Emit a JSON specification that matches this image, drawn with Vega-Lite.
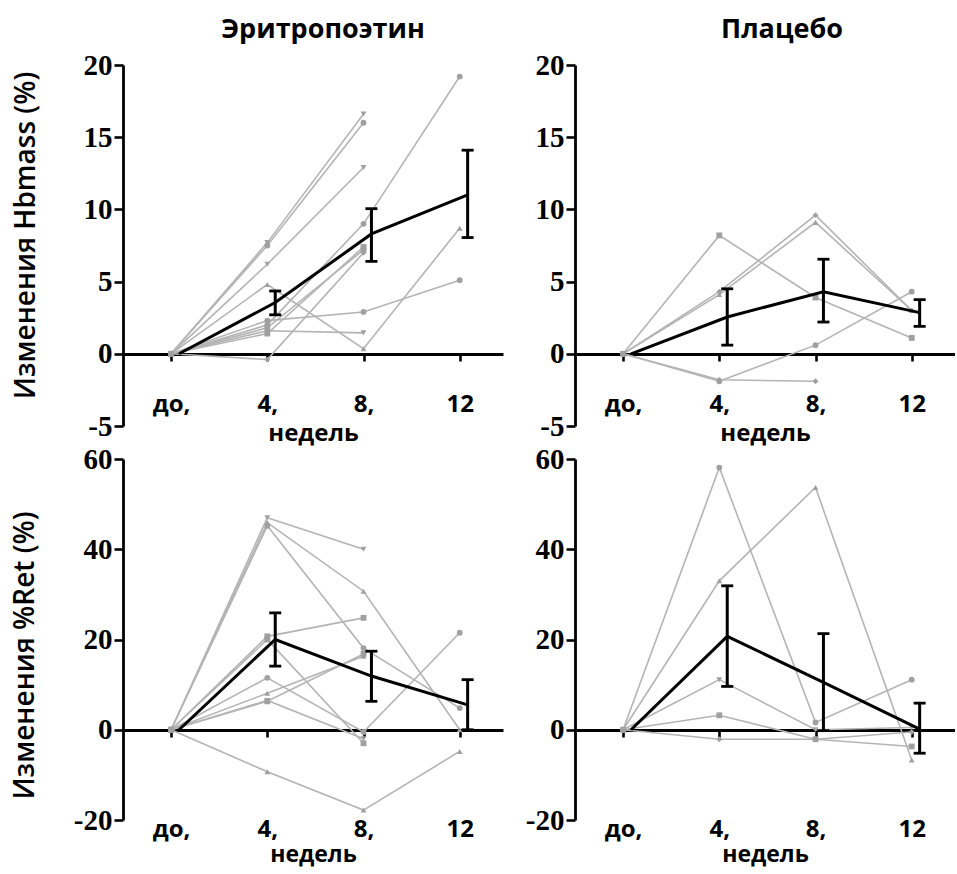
{
  "$schema": "https://vega.github.io/schema/vega-lite/v6.json",
  "background": "white",
  "padding": {"left": 11, "top": 16, "right": 0, "bottom": 8},
  "datasets": {
    "ind": [
      {"panel": "EPO_Hb", "subj": "s1", "week": 0, "value": 0}, {"panel": "EPO_Hb", "subj": "s1", "week": 4, "value": 7.7}, {"panel": "EPO_Hb", "subj": "s1", "week": 8, "value": 16.6},
      {"panel": "EPO_Hb", "subj": "s2", "week": 0, "value": 0}, {"panel": "EPO_Hb", "subj": "s2", "week": 4, "value": 7.5}, {"panel": "EPO_Hb", "subj": "s2", "week": 8, "value": 16.0},
      {"panel": "EPO_Hb", "subj": "s3", "week": 0, "value": 0}, {"panel": "EPO_Hb", "subj": "s3", "week": 4, "value": 6.2}, {"panel": "EPO_Hb", "subj": "s3", "week": 8, "value": 12.9},
      {"panel": "EPO_Hb", "subj": "s4", "week": 0, "value": 0}, {"panel": "EPO_Hb", "subj": "s4", "week": 4, "value": 4.8}, {"panel": "EPO_Hb", "subj": "s4", "week": 8, "value": 0.35}, {"panel": "EPO_Hb", "subj": "s4", "week": 12, "value": 8.7},
      {"panel": "EPO_Hb", "subj": "s5", "week": 0, "value": 0}, {"panel": "EPO_Hb", "subj": "s5", "week": 4, "value": 2.3}, {"panel": "EPO_Hb", "subj": "s5", "week": 8, "value": 2.9}, {"panel": "EPO_Hb", "subj": "s5", "week": 12, "value": 5.1},
      {"panel": "EPO_Hb", "subj": "s6", "week": 0, "value": 0}, {"panel": "EPO_Hb", "subj": "s6", "week": 4, "value": 1.6}, {"panel": "EPO_Hb", "subj": "s6", "week": 8, "value": 1.45},
      {"panel": "EPO_Hb", "subj": "s7", "week": 0, "value": 0}, {"panel": "EPO_Hb", "subj": "s7", "week": 4, "value": -0.4}, {"panel": "EPO_Hb", "subj": "s7", "week": 8, "value": 7.0},
      {"panel": "EPO_Hb", "subj": "s8", "week": 0, "value": 0}, {"panel": "EPO_Hb", "subj": "s8", "week": 4, "value": 2.0}, {"panel": "EPO_Hb", "subj": "s8", "week": 8, "value": 9.0}, {"panel": "EPO_Hb", "subj": "s8", "week": 12, "value": 19.2},
      {"panel": "EPO_Hb", "subj": "s9", "week": 0, "value": 0}, {"panel": "EPO_Hb", "subj": "s9", "week": 4, "value": 1.4}, {"panel": "EPO_Hb", "subj": "s9", "week": 8, "value": 7.4},
      {"panel": "EPO_Hb", "subj": "s10", "week": 0, "value": 0}, {"panel": "EPO_Hb", "subj": "s10", "week": 4, "value": 1.8}, {"panel": "EPO_Hb", "subj": "s10", "week": 8, "value": 7.2},

      {"panel": "PL_Hb", "subj": "s9", "week": 0, "value": 0}, {"panel": "PL_Hb", "subj": "s9", "week": 4, "value": 8.2}, {"panel": "PL_Hb", "subj": "s9", "week": 8, "value": 3.9}, {"panel": "PL_Hb", "subj": "s9", "week": 12, "value": 1.1},
      {"panel": "PL_Hb", "subj": "s7", "week": 0, "value": 0}, {"panel": "PL_Hb", "subj": "s7", "week": 4, "value": 4.3}, {"panel": "PL_Hb", "subj": "s7", "week": 8, "value": 9.6}, {"panel": "PL_Hb", "subj": "s7", "week": 12, "value": 3.0},
      {"panel": "PL_Hb", "subj": "s4", "week": 0, "value": 0}, {"panel": "PL_Hb", "subj": "s4", "week": 4, "value": 4.1}, {"panel": "PL_Hb", "subj": "s4", "week": 8, "value": 9.1}, {"panel": "PL_Hb", "subj": "s4", "week": 12, "value": 3.0},
      {"panel": "PL_Hb", "subj": "s2", "week": 0, "value": 0}, {"panel": "PL_Hb", "subj": "s2", "week": 4, "value": -1.9}, {"panel": "PL_Hb", "subj": "s2", "week": 8, "value": 0.6}, {"panel": "PL_Hb", "subj": "s2", "week": 12, "value": 4.3},
      {"panel": "PL_Hb", "subj": "s11", "week": 0, "value": 0}, {"panel": "PL_Hb", "subj": "s11", "week": 4, "value": -1.8}, {"panel": "PL_Hb", "subj": "s11", "week": 8, "value": -1.9},

      {"panel": "EPO_Ret", "subj": "s1", "week": 0, "value": 0}, {"panel": "EPO_Ret", "subj": "s1", "week": 4, "value": 47.0}, {"panel": "EPO_Ret", "subj": "s1", "week": 8, "value": 40.0},
      {"panel": "EPO_Ret", "subj": "s4", "week": 0, "value": 0}, {"panel": "EPO_Ret", "subj": "s4", "week": 4, "value": 45.9}, {"panel": "EPO_Ret", "subj": "s4", "week": 8, "value": 30.7}, {"panel": "EPO_Ret", "subj": "s4", "week": 12, "value": 0},
      {"panel": "EPO_Ret", "subj": "s2", "week": 0, "value": 0}, {"panel": "EPO_Ret", "subj": "s2", "week": 4, "value": 45.2}, {"panel": "EPO_Ret", "subj": "s2", "week": 8, "value": 18.1}, {"panel": "EPO_Ret", "subj": "s2", "week": 12, "value": 4.8},
      {"panel": "EPO_Ret", "subj": "s9", "week": 0, "value": 0}, {"panel": "EPO_Ret", "subj": "s9", "week": 4, "value": 20.7}, {"panel": "EPO_Ret", "subj": "s9", "week": 8, "value": 24.8},
      {"panel": "EPO_Ret", "subj": "s5", "week": 0, "value": 0}, {"panel": "EPO_Ret", "subj": "s5", "week": 4, "value": 11.5}, {"panel": "EPO_Ret", "subj": "s5", "week": 8, "value": -0.5}, {"panel": "EPO_Ret", "subj": "s5", "week": 12, "value": 21.5},
      {"panel": "EPO_Ret", "subj": "s12", "week": 0, "value": 0}, {"panel": "EPO_Ret", "subj": "s12", "week": 4, "value": 8.1}, {"panel": "EPO_Ret", "subj": "s12", "week": 8, "value": 16.3},
      {"panel": "EPO_Ret", "subj": "s10", "week": 0, "value": 0}, {"panel": "EPO_Ret", "subj": "s10", "week": 4, "value": 6.3}, {"panel": "EPO_Ret", "subj": "s10", "week": 8, "value": 16.8},
      {"panel": "EPO_Ret", "subj": "s13", "week": 0, "value": 0}, {"panel": "EPO_Ret", "subj": "s13", "week": 4, "value": 20.0}, {"panel": "EPO_Ret", "subj": "s13", "week": 8, "value": -3.0},
      {"panel": "EPO_Ret", "subj": "s6", "week": 0, "value": 0}, {"panel": "EPO_Ret", "subj": "s6", "week": 4, "value": 6.5}, {"panel": "EPO_Ret", "subj": "s6", "week": 8, "value": -2.0},
      {"panel": "EPO_Ret", "subj": "s14", "week": 0, "value": 0}, {"panel": "EPO_Ret", "subj": "s14", "week": 4, "value": -9.3}, {"panel": "EPO_Ret", "subj": "s14", "week": 8, "value": -17.8}, {"panel": "EPO_Ret", "subj": "s14", "week": 12, "value": -4.8},

      {"panel": "PL_Ret", "subj": "s2", "week": 0, "value": 0}, {"panel": "PL_Ret", "subj": "s2", "week": 4, "value": 58.1}, {"panel": "PL_Ret", "subj": "s2", "week": 8, "value": 1.6}, {"panel": "PL_Ret", "subj": "s2", "week": 12, "value": 11.1},
      {"panel": "PL_Ret", "subj": "s4", "week": 0, "value": 0}, {"panel": "PL_Ret", "subj": "s4", "week": 4, "value": 33.0}, {"panel": "PL_Ret", "subj": "s4", "week": 8, "value": 53.7}, {"panel": "PL_Ret", "subj": "s4", "week": 12, "value": -6.7},
      {"panel": "PL_Ret", "subj": "s3", "week": 0, "value": 0}, {"panel": "PL_Ret", "subj": "s3", "week": 4, "value": 11.1}, {"panel": "PL_Ret", "subj": "s3", "week": 8, "value": 0.0}, {"panel": "PL_Ret", "subj": "s3", "week": 12, "value": 0.5},
      {"panel": "PL_Ret", "subj": "s9", "week": 0, "value": 0}, {"panel": "PL_Ret", "subj": "s9", "week": 4, "value": 3.2}, {"panel": "PL_Ret", "subj": "s9", "week": 8, "value": -2.1}, {"panel": "PL_Ret", "subj": "s9", "week": 12, "value": -3.7},
      {"panel": "PL_Ret", "subj": "s11", "week": 0, "value": 0}, {"panel": "PL_Ret", "subj": "s11", "week": 4, "value": -2.1}, {"panel": "PL_Ret", "subj": "s11", "week": 8, "value": -2.1}, {"panel": "PL_Ret", "subj": "s11", "week": 12, "value": -0.5}
    ],
    "mean": [
      {"panel": "EPO_Hb", "week": 0, "mean": 0, "lo": null, "hi": null},
      {"panel": "EPO_Hb", "week": 4, "mean": 3.55, "lo": 2.7, "hi": 4.35},
      {"panel": "EPO_Hb", "week": 8, "mean": 8.3, "lo": 6.4, "hi": 10.05},
      {"panel": "EPO_Hb", "week": 12, "mean": 11.0, "lo": 8.05, "hi": 14.1},
      {"panel": "PL_Hb", "week": 0, "mean": 0, "lo": null, "hi": null},
      {"panel": "PL_Hb", "week": 4, "mean": 2.55, "lo": 0.6, "hi": 4.5},
      {"panel": "PL_Hb", "week": 8, "mean": 4.3, "lo": 2.2, "hi": 6.55},
      {"panel": "PL_Hb", "week": 12, "mean": 2.85, "lo": 1.9, "hi": 3.75},
      {"panel": "EPO_Ret", "week": 0, "mean": 0, "lo": null, "hi": null},
      {"panel": "EPO_Ret", "week": 4, "mean": 20.0, "lo": 14.1, "hi": 25.9},
      {"panel": "EPO_Ret", "week": 8, "mean": 11.9, "lo": 6.3, "hi": 17.4},
      {"panel": "EPO_Ret", "week": 12, "mean": 5.5, "lo": 0.0, "hi": 11.1},
      {"panel": "PL_Ret", "week": 0, "mean": 0, "lo": null, "hi": null},
      {"panel": "PL_Ret", "week": 4, "mean": 20.7, "lo": 9.6, "hi": 31.9},
      {"panel": "PL_Ret", "week": 8, "mean": 10.5, "lo": -0.2, "hi": 21.3},
      {"panel": "PL_Ret", "week": 12, "mean": 0.15, "lo": -5.2, "hi": 5.9}
    ]
  },
  "config": {
    "view": {"stroke": null},
    "axis": {"grid": false, "domainColor": "black", "domainWidth": 2.8, "tickColor": "black", "tickWidth": 2.6, "labelColor": "black", "titleColor": "black", "labelFlush": false, "labelOverlap": false},
    "axisY": {"labelFont": "Liberation Serif", "labelFontSize": 29, "labelFontWeight": "bold", "tickSize": 9, "labelPadding": 2, "titleFont": "Open Sans", "titleFontSize": 28, "titleFontWeight": 600, "titleFontStyle": "normal", "titlePadding": 43},
    "axisX": {"labelFont": "Open Sans", "labelFontSize": 24, "labelFontWeight": "bold", "tickSize": 7, "titleFont": "Open Sans", "titleFontSize": 24, "titleFontWeight": "bold", "titlePadding": 5},
    "title": {"font": "Open Sans", "fontSize": 27, "fontWeight": "bold", "color": "black", "anchor": "middle", "offset": 7},
    "point": {"filled": true, "opacity": 1}
  },
  "columns": 2,
  "bounds": "flush",
  "spacing": {"row": 33, "column": 72},
  "concat": [
    {
      "width": 380, "height": 361,
      "title": {"text": "Эритропоэтин", "dx": 10},
      "resolve": {"scale": {"x": "independent"}},
      "layer": [
        {
          "data": {"name": "ind"},
          "transform": [{"filter": "datum.panel == 'EPO_Hb'"}],
          "encoding": {
            "x": {"field": "week", "type": "quantitative", "scale": {"domain": [-2, 13.8], "nice": false, "zero": false}, "axis": {"values": [0, 4, 8, 12], "labelExpr": "datum.value == 0 ? 'до,' : datum.value == 12 ? '12' : datum.value + ','", "offset": -72, "labelPadding": 31, "title": "недель"}},
            "y": {"field": "value", "type": "quantitative", "title": "Изменения Hbmass (%)", "scale": {"domain": [-5, 20], "nice": false, "zero": false}, "axis": {"values": [-5, 0, 5, 10, 15, 20], "titleY": 170, "labelExpr": "datum.value < 0 ? '-' + abs(datum.value) : datum.label"}}
          },
          "layer": [
            {"mark": {"type": "line", "color": "#b4b4b4", "strokeWidth": 1.6}, "encoding": {"detail": {"field": "subj"}}},
            {"mark": {"type": "point", "color": "#a0a0a0", "size": 34}, "encoding": {"shape": {"field": "subj", "type": "nominal", "legend": null, "scale": {"domain": ["s1","s2","s3","s4","s5","s6","s7","s8","s9","s10","s11","s12","s13","s14"], "range": ["triangle-down","circle","triangle-down","triangle-up","circle","triangle-down","diamond","circle","square","square","diamond","triangle-up","square","triangle-up"]}}}}
          ]
        },
        {
          "data": {"name": "mean"},
          "transform": [{"filter": "datum.panel == 'EPO_Hb'"}],
          "encoding": {"x": {"field": "week", "type": "quantitative", "scale": {"domain": [-2.33, 13.47], "nice": false, "zero": false}, "axis": null}},
          "layer": [
            {"mark": {"type": "rule", "color": "black", "strokeWidth": 3}, "encoding": {"y": {"field": "lo", "type": "quantitative", "title": "Изменения Hbmass (%)", "scale": {"domain": [-5, 20], "nice": false, "zero": false}}, "y2": {"field": "hi"}}},
            {"mark": {"type": "tick", "orient": "horizontal", "color": "black", "size": 12, "thickness": 2.8, "opacity": 1}, "encoding": {"y": {"field": "lo", "type": "quantitative", "title": "Изменения Hbmass (%)", "scale": {"domain": [-5, 20], "nice": false, "zero": false}}}},
            {"mark": {"type": "tick", "orient": "horizontal", "color": "black", "size": 12, "thickness": 2.8, "opacity": 1}, "encoding": {"y": {"field": "hi", "type": "quantitative", "title": "Изменения Hbmass (%)", "scale": {"domain": [-5, 20], "nice": false, "zero": false}}}},
            {"mark": {"type": "line", "color": "black", "strokeWidth": 3}, "encoding": {"y": {"field": "mean", "type": "quantitative", "title": "Изменения Hbmass (%)", "scale": {"domain": [-5, 20], "nice": false, "zero": false}}}}
          ]
        }
      ]
    },
    {
      "width": 380, "height": 361,
      "title": {"text": "Плацебо", "dx": 17},
      "resolve": {"scale": {"x": "independent"}},
      "layer": [
        {
          "data": {"name": "ind"},
          "transform": [{"filter": "datum.panel == 'PL_Hb'"}],
          "encoding": {
            "x": {"field": "week", "type": "quantitative", "scale": {"domain": [-2, 13.8], "nice": false, "zero": false}, "axis": {"values": [0, 4, 8, 12], "labelExpr": "datum.value == 0 ? 'до,' : datum.value == 12 ? '12' : datum.value + ','", "offset": -72, "labelPadding": 31, "title": "недель"}},
            "y": {"field": "value", "type": "quantitative", "title": null, "scale": {"domain": [-5, 20], "nice": false, "zero": false}, "axis": {"values": [-5, 0, 5, 10, 15, 20], "labelExpr": "datum.value < 0 ? '-' + abs(datum.value) : datum.label"}}
          },
          "layer": [
            {"mark": {"type": "line", "color": "#b4b4b4", "strokeWidth": 1.6}, "encoding": {"detail": {"field": "subj"}}},
            {"mark": {"type": "point", "color": "#a0a0a0", "size": 34}, "encoding": {"shape": {"field": "subj", "type": "nominal", "legend": null, "scale": {"domain": ["s1","s2","s3","s4","s5","s6","s7","s8","s9","s10","s11","s12","s13","s14"], "range": ["triangle-down","circle","triangle-down","triangle-up","circle","triangle-down","diamond","circle","square","square","diamond","triangle-up","square","triangle-up"]}}}}
          ]
        },
        {
          "data": {"name": "mean"},
          "transform": [{"filter": "datum.panel == 'PL_Hb'"}],
          "encoding": {"x": {"field": "week", "type": "quantitative", "scale": {"domain": [-2.33, 13.47], "nice": false, "zero": false}, "axis": null}},
          "layer": [
            {"mark": {"type": "rule", "color": "black", "strokeWidth": 3}, "encoding": {"y": {"field": "lo", "type": "quantitative", "title": null, "scale": {"domain": [-5, 20], "nice": false, "zero": false}}, "y2": {"field": "hi"}}},
            {"mark": {"type": "tick", "orient": "horizontal", "color": "black", "size": 12, "thickness": 2.8, "opacity": 1}, "encoding": {"y": {"field": "lo", "type": "quantitative", "title": null, "scale": {"domain": [-5, 20], "nice": false, "zero": false}}}},
            {"mark": {"type": "tick", "orient": "horizontal", "color": "black", "size": 12, "thickness": 2.8, "opacity": 1}, "encoding": {"y": {"field": "hi", "type": "quantitative", "title": null, "scale": {"domain": [-5, 20], "nice": false, "zero": false}}}},
            {"mark": {"type": "line", "color": "black", "strokeWidth": 3}, "encoding": {"y": {"field": "mean", "type": "quantitative", "title": null, "scale": {"domain": [-5, 20], "nice": false, "zero": false}}}}
          ]
        }
      ]
    },
    {
      "width": 380, "height": 361,
      "resolve": {"scale": {"x": "independent"}},
      "layer": [
        {
          "data": {"name": "ind"},
          "transform": [{"filter": "datum.panel == 'EPO_Ret'"}],
          "encoding": {
            "x": {"field": "week", "type": "quantitative", "scale": {"domain": [-2, 13.8], "nice": false, "zero": false}, "axis": {"values": [0, 4, 8, 12], "labelExpr": "datum.value == 0 ? 'до,' : datum.value == 12 ? '12' : datum.value + ','", "offset": -90, "labelPadding": 80, "titlePadding": 2, "titleFontSize": 23, "title": "недель"}},
            "y": {"field": "value", "type": "quantitative", "title": "Изменения %Ret  (%)", "scale": {"domain": [-20, 60], "nice": false, "zero": false}, "axis": {"values": [-20, 0, 20, 40, 60], "titlePadding": 34, "titleY": 196, "labelExpr": "datum.value < 0 ? '-' + abs(datum.value) : datum.label"}}
          },
          "layer": [
            {"mark": {"type": "line", "color": "#b4b4b4", "strokeWidth": 1.6}, "encoding": {"detail": {"field": "subj"}}},
            {"mark": {"type": "point", "color": "#a0a0a0", "size": 34}, "encoding": {"shape": {"field": "subj", "type": "nominal", "legend": null, "scale": {"domain": ["s1","s2","s3","s4","s5","s6","s7","s8","s9","s10","s11","s12","s13","s14"], "range": ["triangle-down","circle","triangle-down","triangle-up","circle","triangle-down","diamond","circle","square","square","diamond","triangle-up","square","triangle-up"]}}}}
          ]
        },
        {
          "data": {"name": "mean"},
          "transform": [{"filter": "datum.panel == 'EPO_Ret'"}],
          "encoding": {"x": {"field": "week", "type": "quantitative", "scale": {"domain": [-2.33, 13.47], "nice": false, "zero": false}, "axis": null}},
          "layer": [
            {"mark": {"type": "rule", "color": "black", "strokeWidth": 3}, "encoding": {"y": {"field": "lo", "type": "quantitative", "title": "Изменения %Ret  (%)", "scale": {"domain": [-20, 60], "nice": false, "zero": false}}, "y2": {"field": "hi"}}},
            {"mark": {"type": "tick", "orient": "horizontal", "color": "black", "size": 12, "thickness": 2.8, "opacity": 1}, "encoding": {"y": {"field": "lo", "type": "quantitative", "title": "Изменения %Ret  (%)", "scale": {"domain": [-20, 60], "nice": false, "zero": false}}}},
            {"mark": {"type": "tick", "orient": "horizontal", "color": "black", "size": 12, "thickness": 2.8, "opacity": 1}, "encoding": {"y": {"field": "hi", "type": "quantitative", "title": "Изменения %Ret  (%)", "scale": {"domain": [-20, 60], "nice": false, "zero": false}}}},
            {"mark": {"type": "line", "color": "black", "strokeWidth": 3}, "encoding": {"y": {"field": "mean", "type": "quantitative", "title": "Изменения %Ret  (%)", "scale": {"domain": [-20, 60], "nice": false, "zero": false}}}}
          ]
        }
      ]
    },
    {
      "width": 380, "height": 361,
      "resolve": {"scale": {"x": "independent"}},
      "layer": [
        {
          "data": {"name": "ind"},
          "transform": [{"filter": "datum.panel == 'PL_Ret'"}],
          "encoding": {
            "x": {"field": "week", "type": "quantitative", "scale": {"domain": [-2, 13.8], "nice": false, "zero": false}, "axis": {"values": [0, 4, 8, 12], "labelExpr": "datum.value == 0 ? 'до,' : datum.value == 12 ? '12' : datum.value + ','", "offset": -90, "labelPadding": 80, "titlePadding": 2, "titleFontSize": 23, "title": "недель"}},
            "y": {"field": "value", "type": "quantitative", "title": null, "scale": {"domain": [-20, 60], "nice": false, "zero": false}, "axis": {"values": [-20, 0, 20, 40, 60], "labelExpr": "datum.value < 0 ? '-' + abs(datum.value) : datum.label"}}
          },
          "layer": [
            {"mark": {"type": "line", "color": "#b4b4b4", "strokeWidth": 1.6}, "encoding": {"detail": {"field": "subj"}}},
            {"mark": {"type": "point", "color": "#a0a0a0", "size": 34}, "encoding": {"shape": {"field": "subj", "type": "nominal", "legend": null, "scale": {"domain": ["s1","s2","s3","s4","s5","s6","s7","s8","s9","s10","s11","s12","s13","s14"], "range": ["triangle-down","circle","triangle-down","triangle-up","circle","triangle-down","diamond","circle","square","square","diamond","triangle-up","square","triangle-up"]}}}}
          ]
        },
        {
          "data": {"name": "mean"},
          "transform": [{"filter": "datum.panel == 'PL_Ret'"}],
          "encoding": {"x": {"field": "week", "type": "quantitative", "scale": {"domain": [-2.33, 13.47], "nice": false, "zero": false}, "axis": null}},
          "layer": [
            {"mark": {"type": "rule", "color": "black", "strokeWidth": 3}, "encoding": {"y": {"field": "lo", "type": "quantitative", "title": null, "scale": {"domain": [-20, 60], "nice": false, "zero": false}}, "y2": {"field": "hi"}}},
            {"mark": {"type": "tick", "orient": "horizontal", "color": "black", "size": 12, "thickness": 2.8, "opacity": 1}, "encoding": {"y": {"field": "lo", "type": "quantitative", "title": null, "scale": {"domain": [-20, 60], "nice": false, "zero": false}}}},
            {"mark": {"type": "tick", "orient": "horizontal", "color": "black", "size": 12, "thickness": 2.8, "opacity": 1}, "encoding": {"y": {"field": "hi", "type": "quantitative", "title": null, "scale": {"domain": [-20, 60], "nice": false, "zero": false}}}},
            {"mark": {"type": "line", "color": "black", "strokeWidth": 3}, "encoding": {"y": {"field": "mean", "type": "quantitative", "title": null, "scale": {"domain": [-20, 60], "nice": false, "zero": false}}}}
          ]
        }
      ]
    }
  ]
}
